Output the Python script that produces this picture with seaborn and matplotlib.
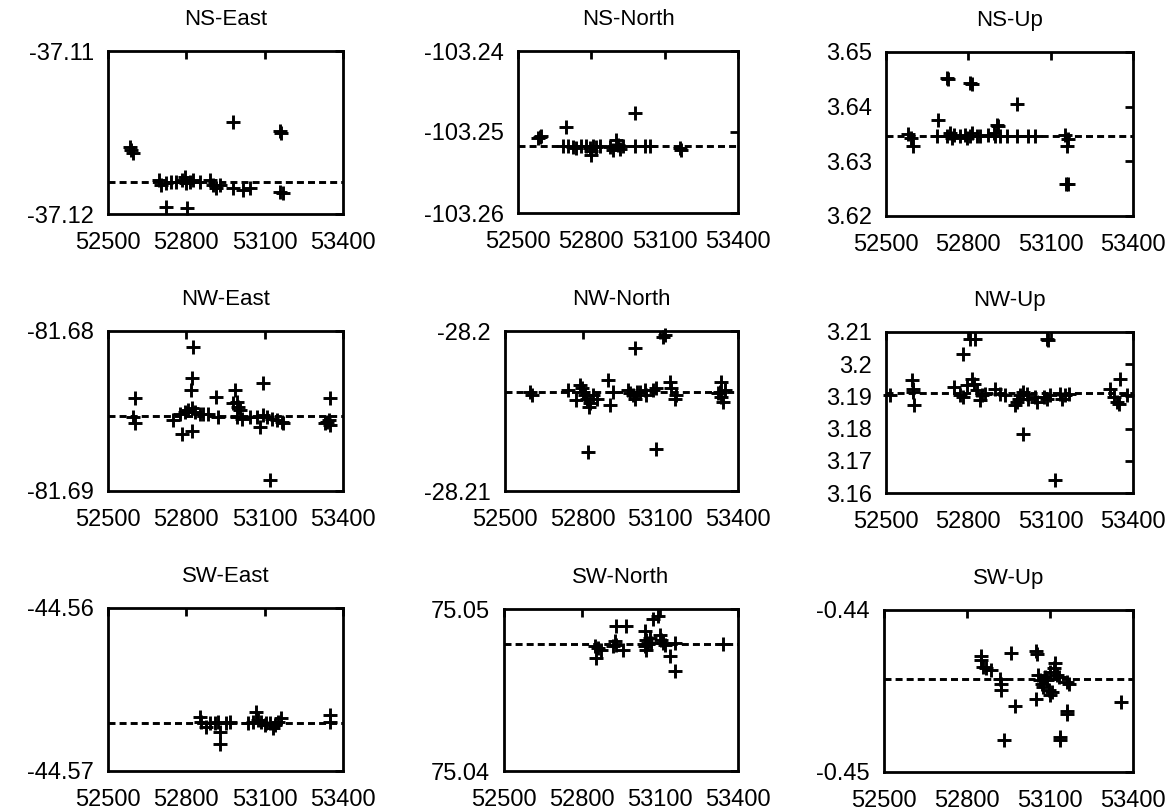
import matplotlib
matplotlib.use("Agg")
import matplotlib.pyplot as plt
import seaborn as sns
import pandas as pd

# ---------------- data ----------------
x_ticks = [52500, 52800, 53100, 53400]
x_tick_labels = ["52500", "52800", "53100", "53400"]

titles = ["NS-East", "NS-North", "NS-Up",
          "NW-East", "NW-North", "NW-Up",
          "SW-East", "SW-North", "SW-Up"]

ns_east_x = [52583, 52589, 52596, 52979, 53158, 53164, 52695, 52704, 52723, 52743, 52762, 52785, 52794, 52800,
             52813, 52826, 52851, 52889, 52902, 52915, 52928, 52979, 53017, 53043, 53158, 53170, 52723, 52804]
ns_east_y = [-37.11587, -37.11607, -37.11628, -37.11434, -37.11491, -37.11501, -37.11791, -37.11822, -37.11808,
             -37.11802, -37.11802, -37.11791, -37.11771, -37.11812, -37.11802, -37.11791, -37.11802, -37.11791,
             -37.11822, -37.11843, -37.11822, -37.11843, -37.11853, -37.11843, -37.11863, -37.11869, -37.11955,
             -37.11965]
ns_east_mean = -37.11802

ns_north_x = [52582, 52589, 52595, 52695, 52977, 52684, 52705, 52725, 52739, 52759, 52780, 52793, 52800, 52800,
              52807, 52820, 52834, 52875, 52889, 52902, 52909, 52916, 52930, 52977, 53018, 53039, 53161, 53168]
ns_north_y = [-103.25076, -103.25066, -103.25055, -103.24941, -103.24760, -103.25170, -103.25170, -103.25187,
              -103.25199, -103.25179, -103.25170, -103.25199, -103.25240, -103.25281, -103.25179, -103.25187,
              -103.25179, -103.25187, -103.25220, -103.25097, -103.25158, -103.25212, -103.25179, -103.25179,
              -103.25179, -103.25179, -103.25199, -103.25228]
ns_north_mean = -103.25179

ns_up_x = [52581, 52590, 52600, 52691, 52721, 52727, 52806, 52813, 52979, 52906, 52909, 53157, 53162, 53153,
           53162, 53158, 52685, 52721, 52734, 52740, 52746, 52770, 52788, 52794, 52806, 52813, 52831, 52843,
           52873, 52892, 52898, 52916, 52940, 52977, 53019, 53044]
ns_up_y = [3.63500, 3.63427, 3.63274, 3.63763, 3.64516, 3.64500, 3.64437, 3.64420, 3.64057, 3.63672, 3.63640,
           3.62588, 3.62588, 3.63475, 3.63410, 3.63285, 3.63469, 3.63457, 3.63518, 3.63427, 3.63488, 3.63457,
           3.63488, 3.63427, 3.63469, 3.63518, 3.63469, 3.63457, 3.63488, 3.63518, 3.63457, 3.63469, 3.63457,
           3.63469, 3.63469, 3.63469]
ns_up_mean = 3.63469

nw_east_x = [52602, 52596, 52602, 52750, 52782, 52820, 52826, 52820, 52816, 52775, 52794, 52807, 52820, 52833,
             52852, 52865, 52884, 52913, 52922, 52986, 52980, 52993, 52999, 53006, 52993, 53012, 53095, 53082,
             53121, 53044, 53070, 53095, 53108, 53127, 53146, 53166, 53172, 53351, 53345, 53351, 53332, 53339]
nw_east_y = [-81.68416, -81.68537, -81.68578, -81.68557, -81.68641, -81.68624, -81.68102, -81.68296, -81.68370,
             -81.68516, -81.68505, -81.68495, -81.68484, -81.68505, -81.68516, -81.68516, -81.68520, -81.68413,
             -81.68537, -81.68370, -81.68453, -81.68443, -81.68474, -81.68495, -81.68537, -81.68547, -81.68324,
             -81.68599, -81.68929, -81.68537, -81.68537, -81.68526, -81.68537, -81.68547, -81.68557, -81.68568,
             -81.68578, -81.68416, -81.68557, -81.68589, -81.68578, -81.68568]
nw_east_mean = -81.68530

nw_north_x = [52596, 52603, 52744, 52789, 52796, 52802, 52809, 52815, 52825, 52828, 52776, 52841, 52854, 52899,
              52905, 52918, 52821, 53001, 53085, 53111, 53117, 52976, 52982, 52995, 53008, 53001, 53021, 53040,
              53046, 53072, 53085, 53136, 53143, 53156, 53162, 53336, 53329, 53336, 53342, 53323, 53349]
nw_north_y = [-28.20380, -28.20401, -28.20370, -28.20338, -28.20359, -28.20380, -28.20401, -28.20422, -28.20474,
              -28.20453, -28.20432, -28.20401, -28.20422, -28.20307, -28.20464, -28.20380, -28.20756, -28.20109,
              -28.20735, -28.20035, -28.20025, -28.20370, -28.20390, -28.20401, -28.20380, -28.20422, -28.20380,
              -28.20370, -28.20401, -28.20370, -28.20359, -28.20317, -28.20359, -28.20422, -28.20401, -28.20317,
              -28.20380, -28.20411, -28.20443, -28.20390, -28.20370]
nw_north_mean = -28.20380

nw_up_x = [52515, 52594, 52600, 52597, 52602, 52780, 52806, 52825, 52746, 52770, 52782, 52794, 52813, 52819,
           52831, 52843, 52849, 52861, 52898, 52916, 52934, 52971, 52977, 52983, 52989, 53001, 53013, 53019,
           53044, 53050, 53001, 53086, 53092, 53117, 53074, 53086, 53098, 53135, 53141, 53153, 53165, 53317,
           53329, 53342, 53348, 53354, 53378]
nw_up_y = [3.19033, 3.19499, 3.19240, 3.19137, 3.18723, 3.20306, 3.20793, 3.20793, 3.19292, 3.19033, 3.18981,
           3.19344, 3.19551, 3.19395, 3.19188, 3.18878, 3.19033, 3.19085, 3.19240, 3.19085, 3.19033, 3.18723,
           3.18826, 3.18930, 3.19033, 3.19137, 3.19085, 3.18930, 3.18981, 3.18826, 3.17822, 3.20793, 3.20741,
           3.16393, 3.18981, 3.18930, 3.19033, 3.19085, 3.18930, 3.19033, 3.19085, 3.19240, 3.18981, 3.18826,
           3.18774, 3.19551, 3.19033]
nw_up_mean = 3.19106

sw_east_x = [52851, 52857, 52877, 52889, 52909, 52921, 52928, 52928, 52953, 52966, 53036, 53055, 53068, 53074,
             53087, 53100, 53106, 53119, 53132, 53138, 53151, 53164, 53349, 53349]
sw_east_y = [-44.56667, -44.56698, -44.56729, -44.56708, -44.56704, -44.56698, -44.56760, -44.56836, -44.56708,
             -44.56698, -44.56708, -44.56698, -44.56636, -44.56688, -44.56698, -44.56719, -44.56704, -44.56708,
             -44.56739, -44.56719, -44.56698, -44.56677, -44.56657, -44.56698]
sw_east_mean = -44.56704

sw_north_x = [52849, 52855, 52862, 52874, 52919, 52926, 52932, 52930, 52971, 52958, 53041, 53047, 53041, 53054,
              53060, 53047, 53067, 53073, 53092, 53099, 53105, 53112, 53118, 53137, 53156, 53156, 53342]
sw_north_y = [75.04769, 75.04696, 75.04758, 75.04748, 75.04769, 75.04800, 75.04779, 75.04893, 75.04893, 75.04748,
              75.04862, 75.04810, 75.04769, 75.04789, 75.04820, 75.04748, 75.04789, 75.04938, 75.04955, 75.04841,
              75.04810, 75.04789, 75.04779, 75.04707, 75.04789, 75.04620, 75.04785]
sw_north_mean = 75.04785

sw_up_x = [52850, 52850, 52857, 52869, 52887, 52918, 52924, 52924, 52934, 52958, 52973, 53048, 53052, 53048,
           53058, 53064, 53070, 53076, 53083, 53089, 53095, 53101, 53107, 53101, 53113, 53119, 53125, 53131,
           53137, 53137, 53162, 53162, 53162, 53168, 53357]
sw_up_y = [-0.44287, -0.44308, -0.44354, -0.44360, -0.44371, -0.44429, -0.44454, -0.44496, -0.44802, -0.44267,
           -0.44594, -0.44252, -0.44273, -0.44548, -0.44402, -0.44433, -0.44454, -0.44475, -0.44412, -0.44433,
           -0.44496, -0.44527, -0.44506, -0.44381, -0.44360, -0.44329, -0.44402, -0.44412, -0.44802, -0.44787,
           -0.44621, -0.44642, -0.44444, -0.44454, -0.44569]
sw_up_mean = -0.44423

ns_east_yticks = [-37.12, -37.11]
ns_east_ylabels = ["-37.12", "-37.11"]
ns_north_yticks = [-103.26, -103.25, -103.24]
ns_north_ylabels = ["-103.26", "-103.25", "-103.24"]
ns_up_yticks = [3.62, 3.63, 3.64, 3.65]
ns_up_ylabels = ["3.62", "3.63", "3.64", "3.65"]
nw_east_yticks = [-81.69, -81.68]
nw_east_ylabels = ["-81.69", "-81.68"]
nw_north_yticks = [-28.21, -28.20]
nw_north_ylabels = ["-28.21", "-28.2"]
nw_up_yticks = [3.16, 3.17, 3.18, 3.19, 3.20, 3.21]
nw_up_ylabels = ["3.16", "3.17", "3.18", "3.19", "3.2", "3.21"]
sw_east_yticks = [-44.57, -44.56]
sw_east_ylabels = ["-44.57", "-44.56"]
sw_north_yticks = [75.04, 75.05]
sw_north_ylabels = ["75.04", "75.05"]
sw_up_yticks = [-0.45, -0.44]
sw_up_ylabels = ["-0.45", "-0.44"]

panels = [
    (ns_east_x, ns_east_y, ns_east_mean, ns_east_yticks, ns_east_ylabels),
    (ns_north_x, ns_north_y, ns_north_mean, ns_north_yticks, ns_north_ylabels),
    (ns_up_x, ns_up_y, ns_up_mean, ns_up_yticks, ns_up_ylabels),
    (nw_east_x, nw_east_y, nw_east_mean, nw_east_yticks, nw_east_ylabels),
    (nw_north_x, nw_north_y, nw_north_mean, nw_north_yticks, nw_north_ylabels),
    (nw_up_x, nw_up_y, nw_up_mean, nw_up_yticks, nw_up_ylabels),
    (sw_east_x, sw_east_y, sw_east_mean, sw_east_yticks, sw_east_ylabels),
    (sw_north_x, sw_north_y, sw_north_mean, sw_north_yticks, sw_north_ylabels),
    (sw_up_x, sw_up_y, sw_up_mean, sw_up_yticks, sw_up_ylabels),
]

# ---------------- layout (pixels: left, right, top, bottom) ----------------
W, H = 1174, 811
boxes = [
    (108, 343, 51, 214), (518, 738, 51, 213), (886, 1133, 52, 216),
    (108, 343, 331, 491), (505, 738, 331, 491), (886, 1133, 332, 493),
    (108, 343, 608, 771), (504, 738, 609, 771), (884, 1133, 610, 772),
]

sns.set_theme(style="white")
plt.rcParams["font.family"] = ["Liberation Sans", "DejaVu Sans"]

fig = plt.figure(figsize=(W / 100, H / 100), dpi=100)
fig.patch.set_facecolor("white")

for (l, r, t, b), title, (xs, ys, mean, yt, yl) in zip(boxes, titles, panels):
    ax = fig.add_axes([l / W, 1 - b / H, (r - l) / W, (b - t) / H])
    df = pd.DataFrame({"mjd": xs, "val": ys})
    sns.scatterplot(data=df, x="mjd", y="val", marker="+", s=100, color="black",
                    linewidth=2.1, ax=ax, zorder=3, clip_on=False)
    ax.axhline(mean, color="black", lw=2.1, ls=(0, (2.4, 1.4)), zorder=2)
    ax.set_xlim(x_ticks[0], x_ticks[-1])
    ax.set_ylim(yt[0], yt[-1])
    ax.set_xticks(x_ticks)
    ax.set_xticklabels(x_tick_labels)
    ax.set_yticks(yt)
    ax.set_yticklabels(yl)
    ax.set_xlabel("")
    ax.set_ylabel("")
    ax.set_title(title, fontsize=16, pad=19, color="black")
    for sp in ax.spines.values():
        sp.set_visible(True)
        sp.set_color("black")
        sp.set_linewidth(2.0)
    ax.tick_params(axis="both", direction="in", top=True, right=True, length=6, width=2.0,
                   labelsize=17, colors="black")
    ax.tick_params(axis="x", pad=13)
    ax.tick_params(axis="y", pad=10)
    ax.grid(False)

fig.savefig("out.png", dpi=100, facecolor="white")
